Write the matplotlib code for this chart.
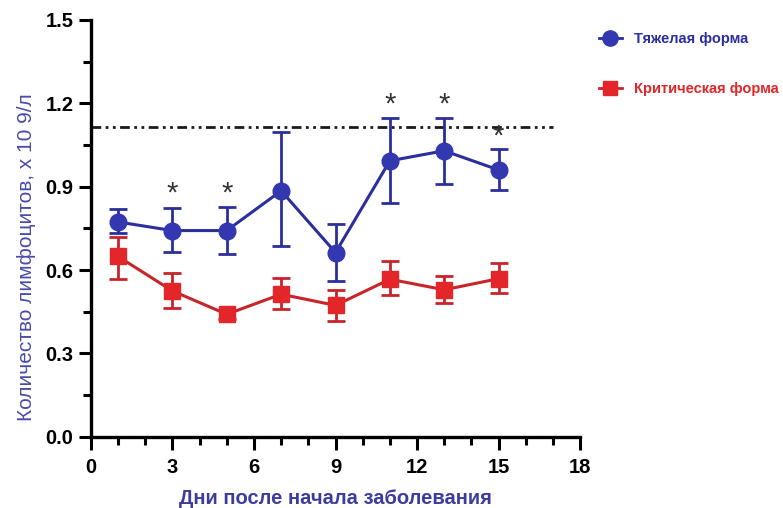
import matplotlib
matplotlib.use("Agg")
import matplotlib.pyplot as plt
from matplotlib.lines import Line2D
import numpy as np

plt.rcParams['font.family'] = ['Liberation Sans', 'DejaVu Sans']
plt.rcParams['font.weight'] = 'bold'

days = [1, 3, 5, 7, 9, 11, 13, 15]
severe = [0.773, 0.742, 0.742, 0.885, 0.663, 0.993, 1.029, 0.960]
severe_lo = [0.733, 0.664, 0.659, 0.685, 0.562, 0.840, 0.909, 0.888]
severe_hi = [0.820, 0.823, 0.827, 1.095, 0.765, 1.146, 1.146, 1.035]
critical = [0.649, 0.525, 0.441, 0.513, 0.473, 0.567, 0.529, 0.569]
critical_lo = [0.568, 0.462, 0.425, 0.460, 0.418, 0.511, 0.483, 0.517]
critical_hi = [0.720, 0.591, 0.457, 0.573, 0.529, 0.631, 0.577, 0.627]
norm_level = 1.113
star_days = [3, 5, 11, 13, 15]
star_y = [0.875, 0.875, 1.195, 1.195, 1.08]

blue = '#3438b0'
blue_line = '#2b2f9e'
red = '#e3262a'
red_line = '#c8242a'

fig = plt.figure(figsize=(7.83, 5.08), dpi=100)
ax = fig.add_axes([0.116, 0.140, 0.625, 0.821])

ax.plot([0, 17], [norm_level, norm_level], color='#1a1a1a', lw=2.0,
        dashes=[3.5, 1.6, 1, 1.6, 1, 1.6])

def draw(y, lo, hi, color, lcolor, marker, ms):
    y = np.array(y); lo = np.array(lo); hi = np.array(hi)
    ax.errorbar(days, y, yerr=[y - lo, hi - y], color=lcolor, ecolor=lcolor,
                lw=2.2, elinewidth=2.0, capsize=6.5, capthick=2.0,
                marker=marker, ms=ms, mfc=color, mec=color, zorder=3)

draw(severe, severe_lo, severe_hi, blue, blue_line, 'o', 12)
draw(critical, critical_lo, critical_hi, red, red_line, 's', 11.5)

for d, s in zip(star_days, star_y):
    ax.text(d, s, '*', ha='center', va='center', fontsize=21, color='#333333',
            fontweight='normal')

ax.set_xlim(0, 18)
ax.set_ylim(0, 1.5)
ax.set_xticks([0, 3, 6, 9, 12, 15, 18])
ax.set_xticks(range(0, 19), minor=True)
ax.set_yticks([0.0, 0.3, 0.6, 0.9, 1.2, 1.5])
ax.set_yticks(np.arange(0, 1.51, 0.15), minor=True)
ax.yaxis.set_major_formatter('{x:.1f}')
ax.tick_params(axis='both', which='major', labelsize=14.5, width=2.2, length=9, color='black')
ax.tick_params(axis='both', which='minor', width=2.2, length=6)
ax.tick_params(axis='x', pad=6)
ax.spines['top'].set_visible(False)
ax.spines['right'].set_visible(False)
ax.spines['left'].set_linewidth(2.4)
ax.spines['bottom'].set_linewidth(2.4)

ax.set_ylabel('Количество лимфоцитов, х 10 9/л', color='#4a4aad', fontsize=15,
              fontweight='normal', labelpad=6)
ax.yaxis.set_label_coords(-0.113, 0.43)
ax.set_xlabel('Дни после начала заболевания', color='#3c3ca0', fontsize=14.5,
              fontweight='bold', labelpad=9)

h1 = Line2D([], [], color=blue_line, lw=2, marker='o', ms=11, mfc=blue, mec=blue)
h2 = Line2D([], [], color=red_line, lw=2, marker='s', ms=10, mfc=red, mec=red)
leg = fig.legend([h1, h2], ['Тяжелая форма', 'Критическая форма'],
                 loc='upper left', bbox_to_anchor=(0.748, 0.962), frameon=False,
                 handlelength=1.6, handletextpad=0.8, labelspacing=2.45,
                 prop={'weight': 'bold', 'size': 10.5})
for t, c in zip(leg.get_texts(), [blue_line, red]):
    t.set_color(c)

fig.savefig('out.png', dpi=100)
